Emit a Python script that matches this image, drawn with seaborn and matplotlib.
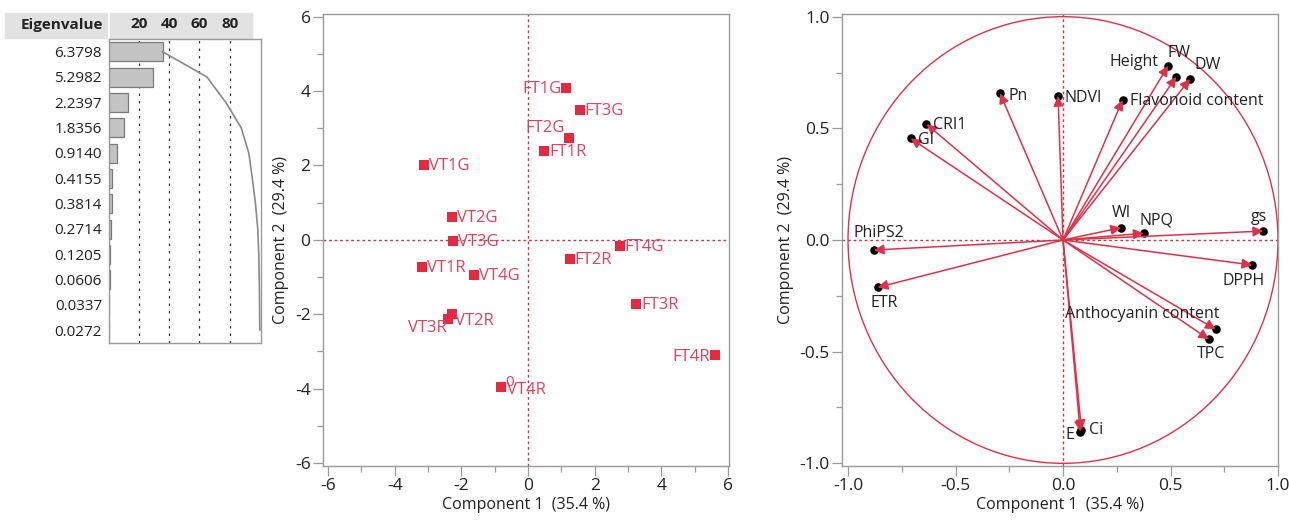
import matplotlib
matplotlib.use("Agg")
import matplotlib.pyplot as plt
from matplotlib.patches import Rectangle, Circle
import numpy as np
import pandas as pd
import seaborn as sns

# ---------------- data ----------------
eigenvalues = [6.3798, 5.2982, 2.2397, 1.8356, 0.9140, 0.4155, 0.3814,
               0.2714, 0.1205, 0.0606, 0.0337, 0.0272]
eig_labels = ["6.3798", "5.2982", "2.2397", "1.8356", "0.9140", "0.4155",
              "0.3814", "0.2714", "0.1205", "0.0606", "0.0337", "0.0272"]
eig_ticks = [20, 40, 60, 80]

score_names = ["FT1G", "FT3G", "FT2G", "FT1R", "VT1G", "VT2G", "VT3G", "VT1R",
               "VT4G", "VT2R", "VT3R", "VT4R", "FT4G", "FT2R", "FT3R", "FT4R"]
score_pc1 = [1.15, 1.55, 1.22, 0.48, -3.12, -2.29, -2.26, -3.17,
             -1.63, -2.29, -2.39, -0.80, 2.75, 1.25, 3.24, 5.60]
score_pc2 = [4.08, 3.50, 2.74, 2.38, 2.00, 0.61, -0.04, -0.74,
             -0.94, -2.00, -2.13, -3.96, -0.16, -0.51, -1.72, -3.09]
score_ticks = [-6, -4, -2, 0, 2, 4, 6]

load_names = ["Height", "FW", "DW", "Flavonoid content", "NDVI", "Pn", "CRI1", "GI",
              "WI", "NPQ", "gs", "PhiPS2", "ETR", "DPPH", "Anthocyanin content",
              "TPC", "E", "Ci"]
load_pc1 = [0.489, 0.527, 0.591, 0.277, -0.023, -0.293, -0.635, -0.709,
            0.270, 0.375, 0.931, -0.880, -0.862, 0.880, 0.710, 0.679, 0.080, 0.086]
load_pc2 = [0.780, 0.731, 0.721, 0.627, 0.645, 0.657, 0.519, 0.455,
            0.055, 0.030, 0.040, -0.045, -0.212, -0.112, -0.400, -0.445, -0.858, -0.851]
load_ticks = [-1.0, -0.5, 0.0, 0.5, 1.0]

xlabel = "Component 1  (35.4 %)"
ylabel = "Component 2  (29.4 %)"

# ---------------- style ----------------
sns.set_theme(style="white")
plt.rcParams["font.family"] = ["Open Sans", "Noto Sans", "DejaVu Sans"]
plt.rcParams["axes.unicode_minus"] = False
RED = "#E8283F"
RED_TXT = "#E5405A"
RED_LINE = "#E03048"
REF = "#C8384A"
SPINE = "#9A9A9A"
TXT = "#222222"

fig = plt.figure(figsize=(12.89, 5.20), dpi=100)
W, H = 1289, 520


def fr(x0, y0, x1, y1):
    return [x0 / W, 1 - y1 / H, (x1 - x0) / W, (y1 - y0) / H]


# header band (behind everything)
fig.patches.append(Rectangle((5 / W, 1 - 38 / H), (107 - 5) / W, 25 / H,
                             transform=fig.transFigure, color="#E2E2E2", zorder=-5))
fig.patches.append(Rectangle((110 / W, 1 - 38 / H), (252 - 110) / W, 25 / H,
                             transform=fig.transFigure, color="#E2E2E2", zorder=-5))

# ---------------- left: eigenvalue bars ----------------
ax0 = fig.add_axes(fr(109, 39, 261, 343))
ax0.patch.set_alpha(0)
total = sum(eigenvalues)
pct = [e / total * 100 for e in eigenvalues]
cum = list(np.cumsum(pct))
df_eig = pd.DataFrame({"label": eig_labels, "pct": pct, "pos": range(len(pct)), "cum": cum})
sns.barplot(data=df_eig, x="pct", y="label", orient="h", color="#C4C4C4",
            edgecolor="#7A7A7A", linewidth=0.9, width=0.75, saturation=1, ax=ax0)
sns.lineplot(data=df_eig, x="cum", y="pos", sort=False, color="#8A8A8A",
             linewidth=1.2, ax=ax0, estimator=None)
for t in eig_ticks:
    ax0.axvline(t, color="#333333", linestyle=(0, (2, 4)), linewidth=0.9, zorder=0)
ax0.set_xlim(0, 100.8)
ax0.set_ylim(len(pct) - 0.5, -0.5)
ax0.set_xlabel("")
ax0.set_ylabel("")
ax0.xaxis.tick_top()
ax0.set_xticks(eig_ticks)
ax0.set_xticklabels([str(t) for t in eig_ticks], fontsize=11, fontweight="bold", color=TXT)
ax0.tick_params(axis="x", length=0, pad=6)
ax0.tick_params(axis="y", length=0, pad=5, labelsize=11, labelcolor=TXT)
for s in ax0.spines.values():
    s.set_color(SPINE)
    s.set_linewidth(1.0)

fig.text(103 / W, 1 - 25.5 / H, "Eigenvalue", ha="right", va="center",
         fontsize=11, fontweight="bold", color=TXT)

# ---------------- middle: score plot ----------------
ax1 = fig.add_axes(fr(323, 14, 729, 466))
ax1.axvline(0, color=REF, linestyle=(0, (2, 2)), linewidth=1.0, zorder=1)
ax1.axhline(0, color=REF, linestyle=(0, (2, 2)), linewidth=1.0, zorder=1)
df_s = pd.DataFrame({"name": score_names, "pc1": score_pc1, "pc2": score_pc2})
sns.scatterplot(data=df_s, x="pc1", y="pc2", marker="s", s=45, color=RED,
                edgecolor=RED, linewidth=0, ax=ax1, zorder=3)
score_off = {"FT1G": (-5, -1, "right"), "FT2G": (-4, 10, "right"),
             "VT3R": (-2, -9, "right"), "FT4R": (-5, -2, "right"),
             "VT4R": (6, -3, "left"), "VT2R": (3, -7, "left")}
for n, x, y in zip(score_names, score_pc1, score_pc2):
    dx, dy, ha = score_off.get(n, (5, -1, "left"))
    ax1.annotate(n, (x, y), xytext=(dx, dy), textcoords="offset pixels",
                 ha=ha, va="center", fontsize=12, color=RED_TXT, zorder=4)
ax1.text(-0.55, -3.83, "0", ha="center", va="center", fontsize=11, color=RED_TXT)
ax1.set_xlim(-6.15, 6.03)
ax1.set_ylim(-6.08, 6.07)
ax1.set_xticks(score_ticks)
ax1.set_yticks(score_ticks)
ax1.set_xticks([-5, -3, -1, 1, 3, 5], minor=True)
ax1.set_yticks([-5, -3, -1, 1, 3, 5], minor=True)
ax1.set_xlabel(xlabel, fontsize=11.5, color=TXT, labelpad=2)
ax1.set_ylabel(ylabel, fontsize=11.5, color=TXT, labelpad=4)

# ---------------- right: loading plot ----------------
ax2 = fig.add_axes(fr(842, 14, 1278, 466))
ax2.axvline(0, color=REF, linestyle=(0, (2, 2)), linewidth=1.0, zorder=1)
ax2.axhline(0, color=REF, linestyle=(0, (2, 2)), linewidth=1.0, zorder=1)
ax2.add_patch(Circle((0, 0), 1.0, fill=False, ec=RED_LINE, lw=1.0, zorder=2))
df_l = pd.DataFrame({"name": load_names, "pc1": load_pc1, "pc2": load_pc2})
sns.scatterplot(data=df_l, x="pc1", y="pc2", marker="o", s=38, color="black",
                edgecolor="black", linewidth=0, ax=ax2, zorder=3)
for x, y in zip(load_pc1, load_pc2):
    ax2.annotate("", xy=(x, y), xytext=(0, 0),
                 arrowprops=dict(arrowstyle="-|>", color=RED_LINE, lw=1.1,
                                 mutation_scale=15, shrinkA=0, shrinkB=0),
                 zorder=4)
load_off = {"Height": (-10, 4, "right"), "FW": (3, 24, "center"),
            "DW": (4, 14, "left"), "Flavonoid content": (7, -1, "left"),
            "NDVI": (6, -2, "left"), "Pn": (8, -3, "left"), "CRI1": (7, -1, "left"),
            "GI": (7, -2, "left"), "WI": (0, 15, "center"), "NPQ": (-4, 13, "left"),
            "gs": (-4, 14, "center"), "PhiPS2": (5, 17, "center"),
            "ETR": (6, -16, "center"), "DPPH": (-9, -16, "center"),
            "Anthocyanin content": (4, 15, "right"), "TPC": (2, -15, "center"),
            "E": (-6, -3, "right"), "Ci": (8, 0, "left")}
for n, x, y in zip(load_names, load_pc1, load_pc2):
    dx, dy, ha = load_off[n]
    ax2.annotate(n, (x, y), xytext=(dx, dy), textcoords="offset pixels",
                 ha=ha, va="center", fontsize=11.5, color=TXT, zorder=5)
ax2.set_xlim(-1.028, 1.0)
ax2.set_ylim(-1.012, 1.012)
ax2.set_xticks(load_ticks)
ax2.set_yticks(load_ticks)
ax2.set_xticklabels([f"{t:.1f}" for t in load_ticks])
ax2.set_yticklabels([f"{t:.1f}" for t in load_ticks])
ax2.set_xticks([-0.75, -0.25, 0.25, 0.75], minor=True)
ax2.set_yticks([-0.75, -0.25, 0.25, 0.75], minor=True)
ax2.set_xlabel(xlabel, fontsize=11.5, color=TXT, labelpad=2)
ax2.set_ylabel(ylabel, fontsize=11.5, color=TXT, labelpad=4)

for ax in (ax1, ax2):
    for s in ax.spines.values():
        s.set_color(SPINE)
        s.set_linewidth(1.0)
    ax.tick_params(which="major", direction="out", length=7, width=0.9, color=SPINE,
                   labelsize=12.5, labelcolor=TXT, bottom=True, left=True, pad=2)
    ax.tick_params(which="minor", direction="out", length=4, width=0.9, color=SPINE,
                   bottom=True, left=True)

fig.savefig("out.png", dpi=100, facecolor="white")
